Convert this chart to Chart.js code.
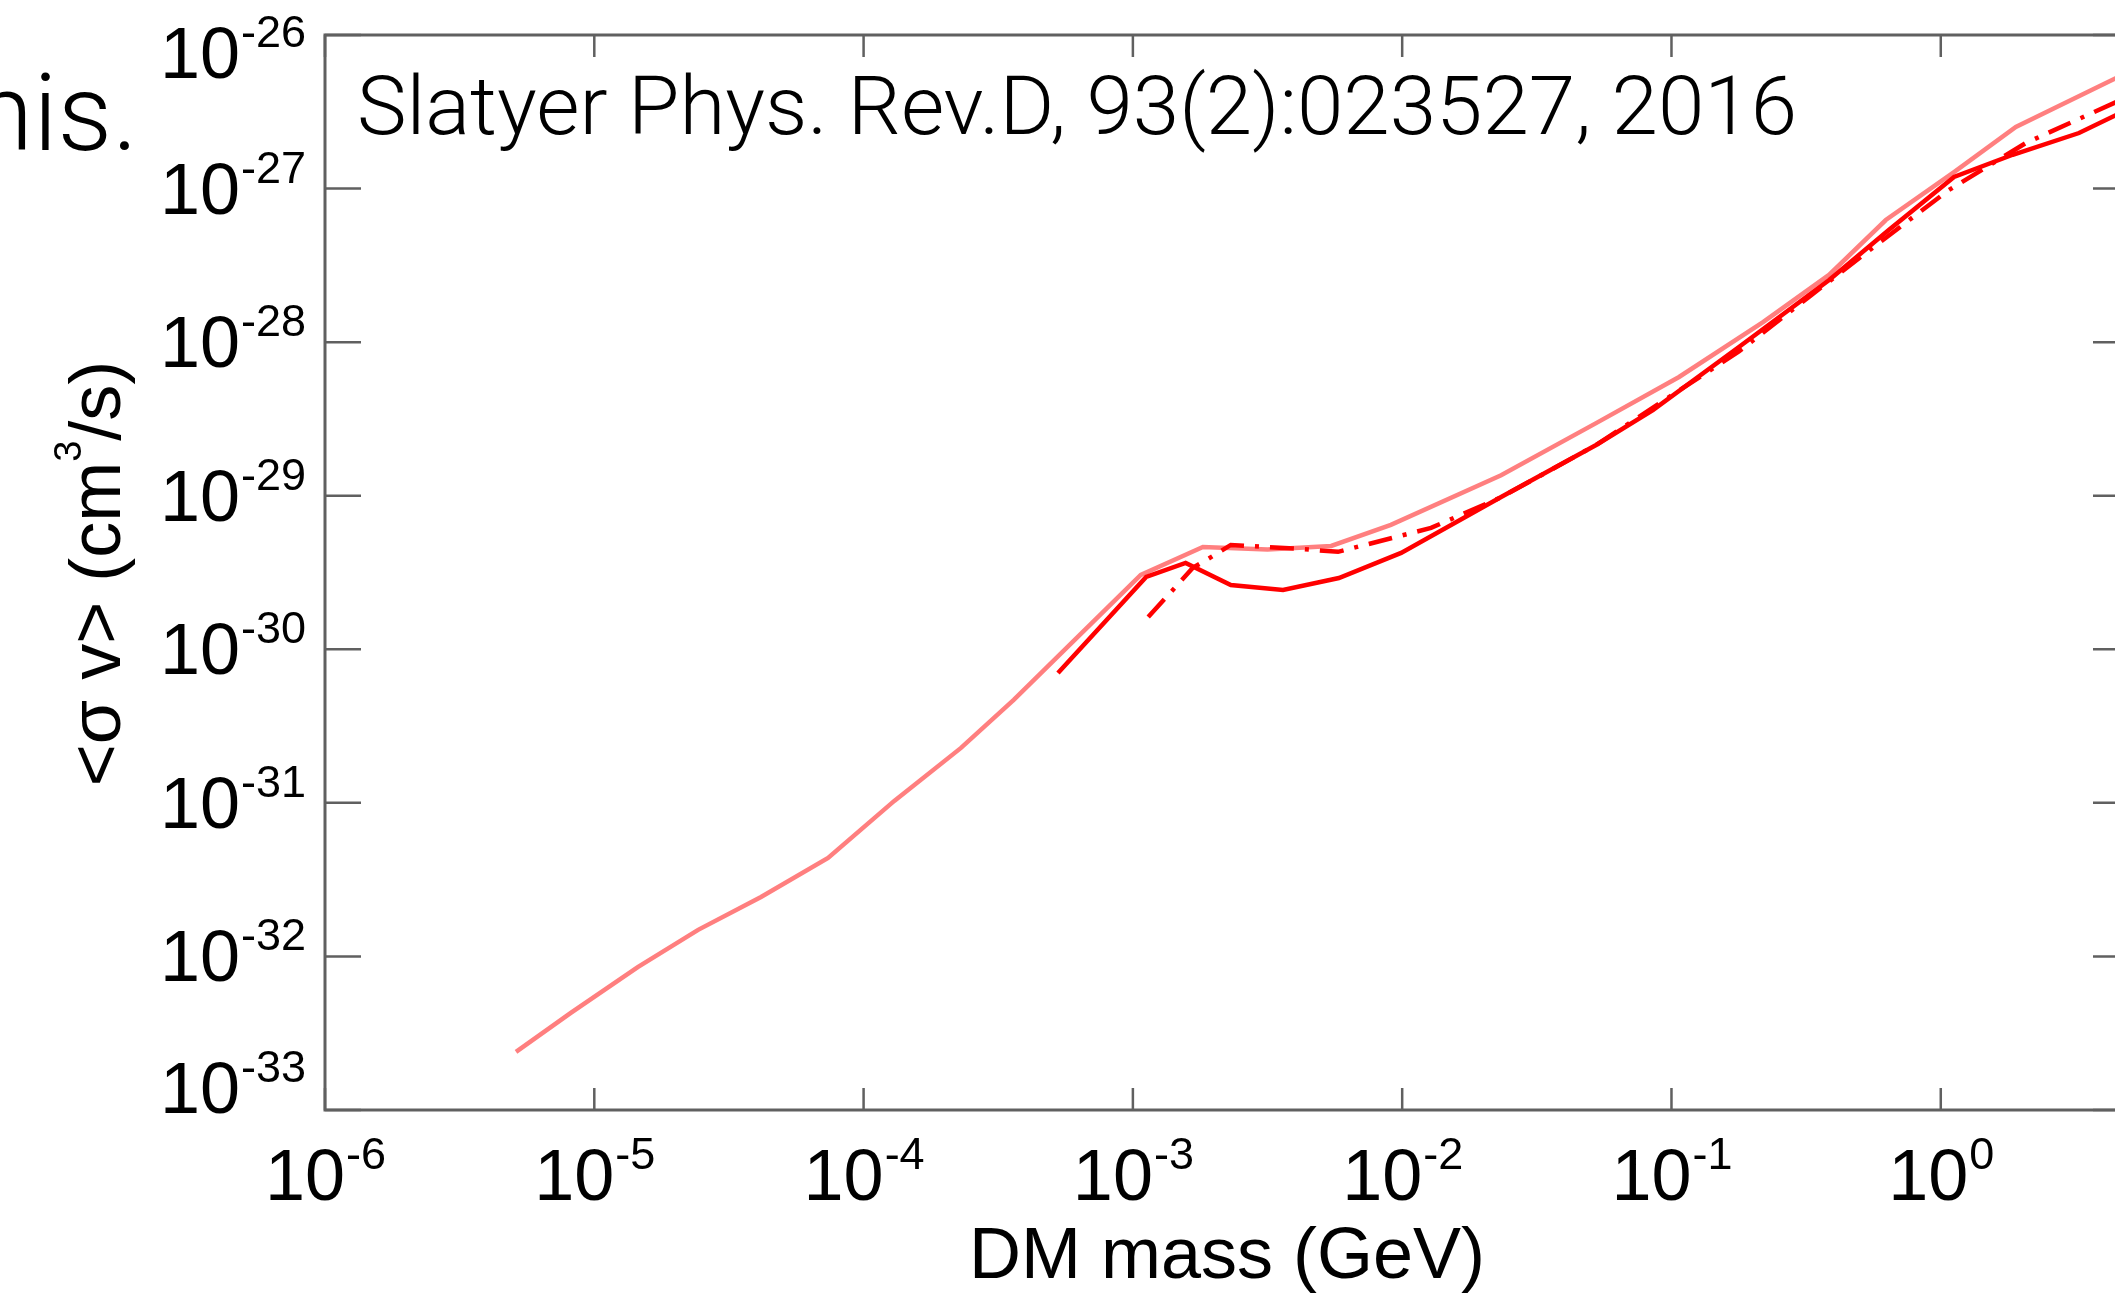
<!DOCTYPE html>
<html lang="en">
<head>
    <meta charset="UTF-8">
    <title>&lt;σ v&gt; vs DM mass</title>

    <!-- Chart.js -->
    <script src="https://cdn.jsdelivr.net/npm/chart.js"></script>

    <style>
        html, body {
            margin: 0;
            padding: 0;
            background: #ffffff;
            overflow: hidden;
        }
        canvas {
            display: block;
        }
    </style>
</head>
<body>
    <!-- the canvas is a bit wider than the window: the right axis sits just off screen -->
    <canvas id="sigmaChart" width="2140" height="1293"></canvas>

    <script>
        // faded (light red) curve
        const fadedMass = [5.12e-6, 8.18e-6, 1.45e-5, 2.43e-5, 4.16e-5, 7.38e-5, 1.30e-4, 2.30e-4, 3.61e-4,
            1.07e-3, 1.82e-3, 3.16e-3, 5.45e-3, 9.08e-3, 2.33e-2, 5.25e-2, 0.1067, 0.2188, 0.3846,
            0.625, 1.12, 1.90, 4.48, 5.0];
        const fadedSigmaV = [2.39e-33, 4.29e-33, 8.53e-33, 1.49e-32, 2.44e-32, 4.38e-32, 1.03e-31, 2.28e-31, 4.68e-31,
            3.05e-30, 4.63e-30, 4.47e-30, 4.71e-30, 6.46e-30, 1.36e-29, 2.97e-29, 5.93e-29, 1.35e-28, 2.74e-28,
            6.24e-28, 1.28e-27, 2.52e-27, 5.25e-27, 5.69e-27];

        // solid red curve
        const solidMass = [5.27e-4, 1.12e-3, 1.57e-3, 2.31e-3, 3.61e-3, 5.82e-3, 9.91e-3, 2.33e-2, 5.25e-2,
            8.53e-2, 0.178, 0.385, 0.641, 1.12, 1.85, 3.26, 4.48, 5.0];
        const solidSigmaV = [7.01e-31, 2.96e-30, 3.65e-30, 2.62e-30, 2.43e-30, 2.91e-30, 4.24e-30, 9.82e-30, 2.14e-29,
            3.61e-29, 9.29e-29, 2.54e-28, 5.37e-28, 1.19e-27, 1.66e-27, 2.30e-27, 3.01e-27, 3.24e-27];

        // dash-dot red curve
        const dashMass = [1.14e-3, 1.67e-3, 1.95e-3, 2.31e-3, 4.21e-3, 5.78e-3, 1.28e-2, 2.33e-2, 5.25e-2,
            0.178, 0.324, 0.590, 1.07, 2.07, 4.48, 5.0];
        const dashSigmaV = [1.62e-30, 3.39e-30, 3.98e-30, 4.78e-30, 4.50e-30, 4.31e-30, 6.17e-30, 9.77e-30, 2.14e-29,
            8.71e-29, 1.97e-28, 4.43e-28, 9.77e-28, 1.98e-27, 3.66e-27, 3.98e-27];

        // ticks (decades) and their exponent labels
        const xTicks = [1e-6, 1e-5, 1e-4, 1e-3, 1e-2, 1e-1, 1e0];
        const xTickLabels = ['-6', '-5', '-4', '-3', '-2', '-1', '0'];
        const yTicks = [1e-26, 1e-27, 1e-28, 1e-29, 1e-30, 1e-31, 1e-32, 1e-33];
        const yTickLabels = ['-26', '-27', '-28', '-29', '-30', '-31', '-32', '-33'];

        const xTitle = 'DM mass (GeV)';
        const noteText = 'Slatyer Phys. Rev.D, 93(2):023527, 2016';
        const slideText = 'This.';

        const axisColor = '#606060';
        const labelFont = '"Liberation Sans", Arial, Helvetica, sans-serif';
        const lightFont = 'Roboto, Lato, "Open Sans", sans-serif';

        function toPoints(xs, ys) {
            return xs.map((x, i) => ({ x: x, y: ys[i] }));
        }

        // "10" with a raised exponent
        function drawPower(ctx, exp, x, baseline, align) {
            ctx.font = '72px ' + labelFont;
            const wMain = ctx.measureText('10').width;
            ctx.font = '45px ' + labelFont;
            const wSup = ctx.measureText(exp).width;
            const total = wMain + wSup;
            const left = align === 'right' ? x - total : x - total / 2;
            ctx.textAlign = 'left';
            ctx.textBaseline = 'alphabetic';
            ctx.font = '72px ' + labelFont;
            ctx.fillText('10', left, baseline);
            ctx.font = '45px ' + labelFont;
            ctx.fillText(exp, left + wMain + 1, baseline - 31);
        }

        // box, inward ticks and all the labels
        const framePlugin = {
            id: 'frame',
            afterDatasetsDraw(chart) {
                const ctx = chart.ctx;
                const area = chart.chartArea;
                const xs = chart.scales.x;
                const ys = chart.scales.y;

                ctx.save();
                ctx.strokeStyle = axisColor;
                ctx.lineWidth = 3;
                ctx.strokeRect(area.left, area.top, area.right - area.left, area.bottom - area.top);

                ctx.lineWidth = 2.5;
                ctx.beginPath();
                xTicks.forEach(v => {
                    const px = xs.getPixelForValue(v);
                    ctx.moveTo(px, area.bottom);
                    ctx.lineTo(px, area.bottom - 22);
                    ctx.moveTo(px, area.top);
                    ctx.lineTo(px, area.top + 22);
                });
                yTicks.forEach(v => {
                    const py = ys.getPixelForValue(v);
                    ctx.moveTo(area.left, py);
                    ctx.lineTo(area.left + 36, py);
                    ctx.moveTo(area.right, py);
                    ctx.lineTo(area.right - 36, py);
                });
                ctx.stroke();
                ctx.restore();
            },
            afterDraw(chart) {
                const ctx = chart.ctx;
                const area = chart.chartArea;
                const xs = chart.scales.x;
                const ys = chart.scales.y;

                ctx.save();
                ctx.fillStyle = '#000000';

                // x tick labels
                xTicks.forEach((v, i) => {
                    drawPower(ctx, xTickLabels[i], xs.getPixelForValue(v), area.bottom + 90, 'center');
                });

                // y tick labels (end ones pushed inwards, as in the original)
                yTicks.forEach((v, i) => {
                    let shift = 25;
                    if (i === 0) shift = 43;
                    if (i === yTicks.length - 1) shift = 3;
                    drawPower(ctx, yTickLabels[i], area.left - 20, ys.getPixelForValue(v) + shift, 'right');
                });

                // x title
                ctx.font = '72px ' + labelFont;
                ctx.textAlign = 'center';
                ctx.textBaseline = 'alphabetic';
                ctx.fillText(xTitle, (area.left + area.right) / 2, 1278);

                // y title, rotated, with the cm^3 superscript
                const parts = [
                    { t: '<σ v> (cm', size: 72, rise: 0 },
                    { t: '3', size: 38, rise: 39 },
                    { t: '/s)', size: 72, rise: 0 }
                ];
                let total = 0;
                parts.forEach(p => {
                    ctx.font = p.size + 'px ' + labelFont;
                    p.w = ctx.measureText(p.t).width;
                    total += p.w;
                });
                ctx.translate(120, (area.top + area.bottom) / 2 + 1);
                ctx.rotate(-Math.PI / 2);
                ctx.textAlign = 'left';
                let pos = -total / 2;
                parts.forEach(p => {
                    ctx.font = p.size + 'px ' + labelFont;
                    ctx.fillText(p.t, pos, -p.rise);
                    pos += p.w;
                });
                ctx.setTransform(1, 0, 0, 1, 0, 0);

                // reference note inside the plot
                ctx.font = '300 82px ' + lightFont;
                ctx.textAlign = 'left';
                const noteW = ctx.measureText(noteText).width;
                ctx.save();
                ctx.translate(357, 134);
                ctx.scale(1440 / noteW, 1);
                ctx.fillText(noteText, 0, 0);
                ctx.restore();

                // slide text cut by the left edge
                ctx.font = '300 108px ' + lightFont;
                ctx.textAlign = 'right';
                ctx.fillText(slideText, 138, 150);

                ctx.restore();
            }
        };

        const ctx = document.getElementById('sigmaChart').getContext('2d');
        new Chart(ctx, {
            type: 'line',
            data: {
                datasets: [
                    {
                        label: 'faded',
                        data: toPoints(fadedMass, fadedSigmaV),
                        borderColor: 'rgba(255, 0, 0, 0.5)',
                        borderWidth: 4.5,
                        pointRadius: 0,
                        tension: 0
                    },
                    {
                        label: 'solid',
                        data: toPoints(solidMass, solidSigmaV),
                        borderColor: '#ff0000',
                        borderWidth: 4.5,
                        pointRadius: 0,
                        tension: 0
                    },
                    {
                        label: 'dash-dot',
                        data: toPoints(dashMass, dashSigmaV),
                        borderColor: '#ff0000',
                        borderWidth: 4.5,
                        borderDash: [24, 11, 4, 11],
                        pointRadius: 0,
                        tension: 0
                    }
                ]
            },
            options: {
                responsive: false,
                animation: false,
                devicePixelRatio: 1,
                layout: {
                    padding: { left: 325, top: 35, right: 11, bottom: 183 }
                },
                plugins: {
                    legend: { display: false },
                    tooltip: { enabled: false }
                },
                scales: {
                    x: {
                        type: 'logarithmic',
                        min: 1e-6,
                        max: 5,
                        display: false
                    },
                    y: {
                        type: 'logarithmic',
                        min: 1e-33,
                        max: 1e-26,
                        display: false
                    }
                }
            },
            plugins: [framePlugin]
        });
    </script>
</body>
</html>
